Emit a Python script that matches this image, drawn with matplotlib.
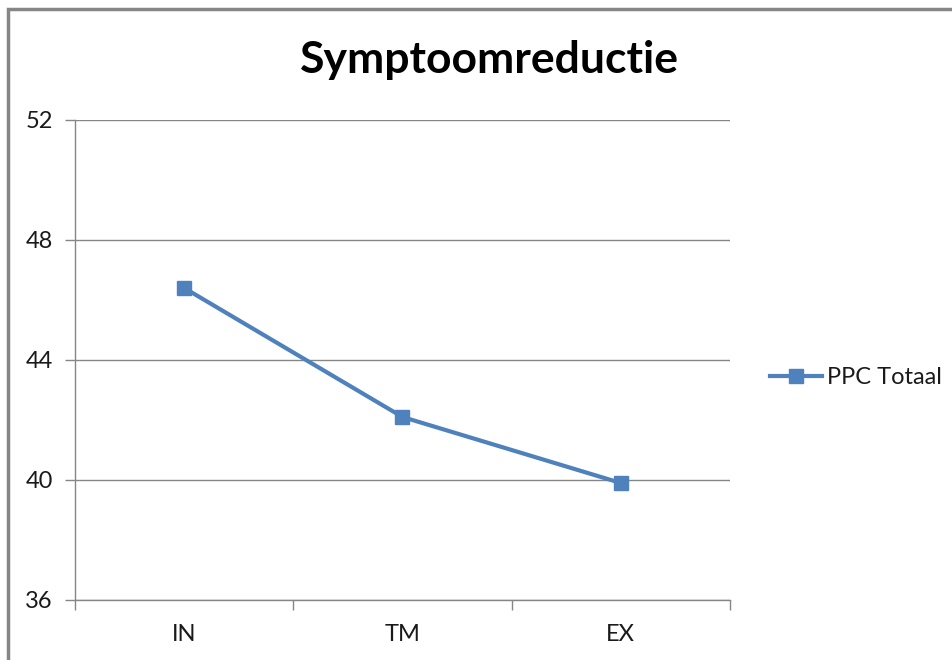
import numpy as np
import matplotlib.pyplot as plt
from matplotlib.patches import Rectangle
from matplotlib.lines import Line2D

plt.rcParams['font.family'] = ['Lato', 'DejaVu Sans']

categories = ['IN', 'TM', 'EX']
ppc_totaal = [46.4, 42.1, 39.9]
yticks = [36, 40, 44, 48, 52]

blue = '#4F81BD'
grid = '#868686'
txt = '#1a1a1a'

fig = plt.figure(figsize=(9.53, 6.6), dpi=100)
ax = fig.add_axes([75 / 953, 60 / 660, 655 / 953, 480 / 660])

x = np.arange(len(categories))
ax.plot(x, ppc_totaal, color=blue, lw=3, marker='s', markersize=10,
        markeredgecolor=blue, label='PPC Totaal', zorder=3)

ax.set_xlim(-0.5, len(categories) - 0.5)
ax.set_ylim(yticks[0], yticks[-1])
ax.set_yticks(yticks)
ax.grid(axis='y', color=grid, lw=1)

ax.set_xticks(np.arange(len(categories) + 1) - 0.5)
ax.set_xticklabels([])
ax.set_xticks(x, minor=True)
ax.set_xticklabels(categories, minor=True)
ax.tick_params(axis='x', which='minor', length=0, pad=17, labelsize=17,
               labelcolor=txt)
ax.tick_params(axis='x', which='major', length=7, color=grid, width=1)
ax.tick_params(axis='y', length=7, color=grid, width=1, pad=9, labelsize=17,
               labelcolor=txt)

for side in ['top', 'right']:
    ax.spines[side].set_visible(False)
for side in ['left', 'bottom']:
    ax.spines[side].set_color(grid)
    ax.spines[side].set_linewidth(1)

fig.text(489 / 953, 1 - 60 / 660, 'Symptoomreductie', ha='center', va='center',
         fontsize=32, fontweight='bold', color='black')

# legend
handle = Line2D([], [], color=blue, lw=3, marker='s', markersize=10)
fig.legend([handle], ['PPC Totaal'], loc='center left',
           bbox_to_anchor=(749 / 953, 1 - 378 / 660), frameon=False,
           fontsize=17, handlelength=2.2, handletextpad=0.2, labelcolor=txt)

# chart border
fig.patches.append(Rectangle((8 / 953, -0.05), 1.2, 1 - 9 / 660 + 0.05,
                             transform=fig.transFigure, fill=False,
                             edgecolor='#868686', lw=2.5))

fig.savefig('out.png', dpi=100)
